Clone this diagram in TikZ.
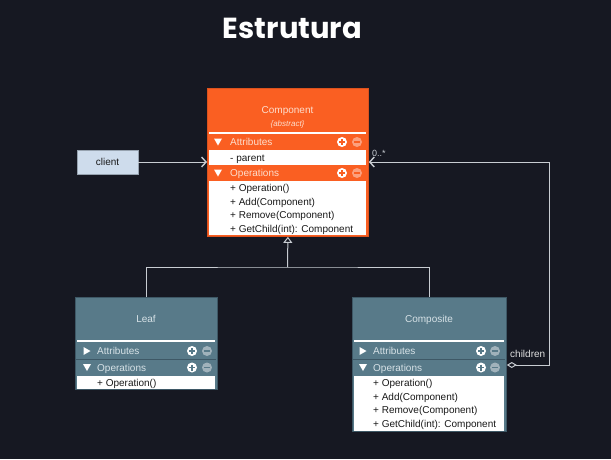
\documentclass[tikz,border=0pt]{standalone}
\usepackage{fontspec}
\setmainfont{Liberation Sans}
\newfontfamily\titlefont{Poppins}
\usetikzlibrary{arrows.meta}
\definecolor{bg}{RGB}{22,24,34}
\definecolor{orng}{RGB}{250,95,34}
\definecolor{orngdark}{RGB}{220,82,30}
\definecolor{orngtext}{RGB}{253,222,205}
\definecolor{orngminus}{RGB}{252,160,125}
\definecolor{slate}{RGB}{88,122,137}
\definecolor{slatedark}{RGB}{62,88,102}
\definecolor{slatetext}{RGB}{215,226,231}
\definecolor{slateminus}{RGB}{160,178,187}
\definecolor{wire}{RGB}{200,204,210}
\definecolor{clientfill}{RGB}{206,220,236}
\definecolor{clientdraw}{RGB}{150,162,175}
\definecolor{rowtext}{RGB}{25,25,25}
\newcommand\plusicon[3]{%
  \fill[white] (#1,#2) circle (5pt);
  \draw[#3, line width=1.5pt] (#1-3,#2) -- (#1+3,#2) (#1,#2-3) -- (#1,#2+3);}
\newcommand\minusicon[4]{%
  \fill[#4] (#1,#2) circle (5pt);
  \draw[#3, line width=1.5pt] (#1-3,#2) -- (#1+3,#2);}
\newcommand\downtri[2]{\fill[white] (#1-4,#2-3.5) -- (#1+4,#2-3.5) -- (#1,#2+3.5) -- cycle;}
\newcommand\righttri[2]{\fill[white] (#1-3.5,#2-4) -- (#1+3.5,#2) -- (#1-3.5,#2+4) -- cycle;}
\begin{document}
\begin{tikzpicture}[x=1pt,y=-1pt,
  lbl/.style={inner sep=0pt, font=\fontsize{10}{12}\selectfont, text height=7pt, text depth=2pt, yshift=-1.2pt},
  rowlbl/.style={lbl, text=rowtext, anchor=west},
  classbox/.style={inner sep=0pt, anchor=north west, line width=0.8pt},
  wireline/.style={draw=wire, line width=1pt},
  opentip/.style={-{Straight Barb[length=4.5pt,width=10pt,line width=1.4pt]}}
]
\fill[bg] (0,0) rectangle (611,459);
\useasboundingbox (0,0) rectangle (611,459);

% title
\node[font=\titlefont\bfseries\fontsize{29}{31}\selectfont, text=white, inner sep=0pt] (title) at (292.5,28) {Estrutura};

% ---------- Component ----------
\node[classbox, draw=orngdark, fill=orng, minimum width=161pt, minimum height=148pt] (comp) at (207,88) {};
\fill[white] (209,132) rectangle (366,134);
\fill[white] (209,150) rectangle (366,165);
\fill[white] (209,181) rectangle (366,235);
\node[lbl, text=orngtext] (compname) at (287.5,110) {Component};
\node[lbl, text=orngtext, font=\fontsize{8}{10}\selectfont\itshape] (compabs) at (287.5,122.5) {\{abstract\}};
\downtri{218}{142}
\node[lbl, text=orngtext, anchor=west] (cattr) at (230,142) {Attributes};
\plusicon{342}{142}{orng}
\minusicon{357}{142}{orng}{orngminus}
\node[rowlbl] (cparent) at (230,157.5) {- parent};
\downtri{218}{173}
\node[lbl, text=orngtext, anchor=west] (cops) at (230,173) {Operations};
\plusicon{342}{173}{orng}
\minusicon{357}{173}{orng}{orngminus}
\node[rowlbl] (cop1) at (230,188) {+ Operation()};
\node[rowlbl] (cop2) at (230,201.5) {+ Add(Component)};
\node[rowlbl] (cop3) at (230,215) {+ Remove(Component)};
\node[rowlbl] (cop4) at (230,228.5) {+ GetChild(int): Component};

% ---------- client ----------
\node[draw=clientdraw, fill=clientfill, line width=0.8pt, minimum width=61pt, minimum height=24pt, inner sep=0pt,
      font=\fontsize{10}{12}\selectfont, text=rowtext] (client) at (107.5,162) {client};
\draw[wireline, opentip] (client.east) -- (client.east -| comp.west);

% ---------- Leaf ----------
\node[classbox, draw=slatedark, fill=slate, minimum width=142pt, minimum height=92pt] (leaf) at (75,297) {};
\fill[white] (77,340) rectangle (215,342);
\draw[slatedark, line width=0.5pt] (76,359) -- (216,359);
\fill[white] (77,376) rectangle (215,388.5);
\node[lbl, text=slatetext] (leafname) at (146,319) {Leaf};
\righttri{87}{351}
\node[lbl, text=slatetext, anchor=west] (lattr) at (97,351) {Attributes};
\plusicon{192}{351}{slate}
\minusicon{207}{351}{slate}{slateminus}
\downtri{87}{367.5}
\node[lbl, text=slatetext, anchor=west] (lops) at (97,367.5) {Operations};
\plusicon{192}{367.5}{slate}
\minusicon{207}{367.5}{slate}{slateminus}
\node[rowlbl] (lop1) at (97,382.5) {+ Operation()};

% ---------- Composite ----------
\node[classbox, draw=slatedark, fill=slate, minimum width=154pt, minimum height=134pt] (compo) at (352,297) {};
\fill[white] (354,340) rectangle (504,342);
\draw[slatedark, line width=0.5pt] (353,359) -- (505,359);
\fill[white] (354,376) rectangle (504,430.5);
\node[lbl, text=slatetext] (componame) at (429,319) {Composite};
\righttri{363}{351}
\node[lbl, text=slatetext, anchor=west] (kattr) at (373,351) {Attributes};
\plusicon{481}{351}{slate}
\minusicon{495}{351}{slate}{slateminus}
\downtri{363}{367.5}
\node[lbl, text=slatetext, anchor=west] (kops) at (373,367.5) {Operations};
\plusicon{481}{367.5}{slate}
\minusicon{495}{367.5}{slate}{slateminus}
\node[rowlbl] (kop1) at (373,383) {+ Operation()};
\node[rowlbl] (kop2) at (373,396.5) {+ Add(Component)};
\node[rowlbl] (kop3) at (373,410) {+ Remove(Component)};
\node[rowlbl] (kop4) at (373,423.5) {+ GetChild(int): Component};

% ---------- inheritance ----------
\coordinate (junc) at (287.5,267);
\draw[wireline] (leaf.north) |- (junc) -| (compo.north);
\draw[wireline, -{Triangle[open,fill=bg,length=6pt,width=9pt]}] (junc) -- (comp.south);

% ---------- aggregation ----------
\coordinate (aggs) at (compo.east |- 0,365);
\coordinate (aggc) at (549,162);
\draw[wireline, {Diamond[open,fill=bg,length=10pt,width=6pt]}-{Straight Barb[length=4.5pt,width=10pt,line width=1.4pt]}]
  (aggs) -| (aggc) -- (aggc -| comp.east);
\node[lbl, text=wire, anchor=west, font=\fontsize{9}{11}\selectfont] (mult) at (372,152.5) {0..*};
\node[lbl, text=white!88!black, anchor=west] (childlbl) at (510,354) {children};
\end{tikzpicture}
\end{document}
